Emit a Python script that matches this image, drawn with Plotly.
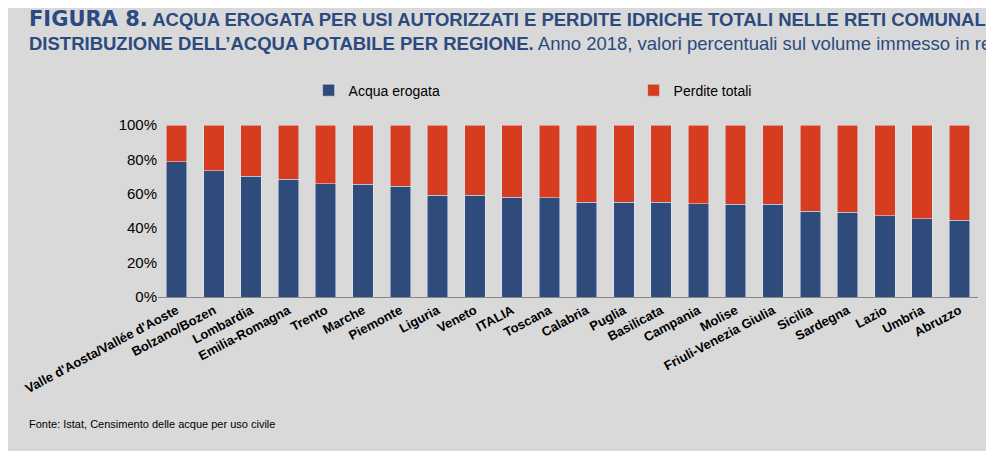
import plotly.graph_objects as go

regioni = ["Valle d'Aosta/Vallée d'Aoste","Bolzano/Bozen","Lombardia","Emilia-Romagna","Trento","Marche","Piemonte","Liguria","Veneto","ITALIA","Toscana","Calabria","Puglia","Basilicata","Campania","Molise","Friuli-Venezia Giulia","Sicilia","Sardegna","Lazio","Umbria","Abruzzo"]
erogata = [78.5,73.3,70.3,68.6,65.8,65.6,64.5,59.3,59.3,58.1,57.6,55.2,55.1,55.0,54.1,54.0,54.0,50.0,49.4,47.3,45.6,44.6]
perdite = [round(100-v,1) for v in erogata]

fig = go.Figure()
fig.add_bar(x=regioni, y=erogata, name="Acqua erogata", marker_color="#2f4b7c", width=0.55)
fig.add_bar(x=regioni, y=perdite, name="Perdite totali", marker_color="#d63c1f", width=0.55)

fig.update_layout(
    barmode="stack", width=994, height=451,
    paper_bgcolor="#d9d9d9", plot_bgcolor="#d9d9d9",
    font=dict(family="Liberation Sans, Arial", size=13, color="#000"),
    margin=dict(l=150, r=24, t=117, b=162),
    legend=dict(orientation="h", x=0.58, xanchor="center", y=1.2, yanchor="middle",
                font=dict(size=14), entrywidth=280, traceorder="normal"),
    xaxis=dict(tickangle=-28, tickfont=dict(size=13, family="Liberation Sans, Arial"), showline=True, linecolor="#888", ticks=""),
    yaxis=dict(range=[0,100], dtick=20, ticksuffix="%", showgrid=False, zeroline=False, tickfont=dict(size=15)),
    showlegend=True,
)
fig.update_xaxes(tickvals=regioni, ticktext=["<b>%s</b>" % r for r in regioni])
fig.add_annotation(xref="paper", yref="paper", x=-0.16, y=1.7, xanchor="left", yanchor="top", align="left", showarrow=False,
    text="<b><span style='font-size:21px;font-family:DejaVu Sans'>FIGURA 8.</span> ACQUA EROGATA PER USI AUTORIZZATI E PERDITE IDRICHE TOTALI NELLE RETI COMUNALI DI</b><br><b>DISTRIBUZIONE DELL’ACQUA POTABILE PER REGIONE.</b> Anno 2018, valori percentuali sul volume immesso in rete",
    font=dict(size=18.5, color="#2b4a80", family="Liberation Sans Narrow, Liberation Sans, Arial"))
fig.add_annotation(xref="paper", yref="paper", x=-0.16, y=-0.74, xanchor="left", yanchor="middle", showarrow=False,
    text="Fonte: Istat, Censimento delle acque per uso civile", font=dict(size=11))
fig.write_html("out.html")
